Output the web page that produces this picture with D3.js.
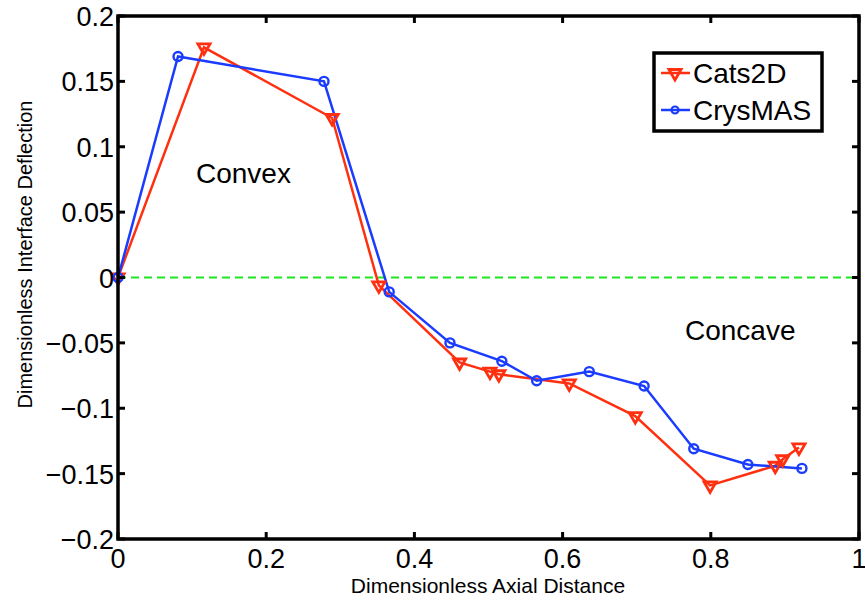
<!doctype html>
<html lang="en">
<head>
<meta charset="utf-8">
<title>Interface deflection</title>
<script src="https://d3js.org/d3.v7.min.js"></script>
<style>
  body { margin: 0; background: #fff; }
  text { font-family: "Liberation Sans", Arial, Helvetica, sans-serif; }
</style>
</head>
<body>
<svg id="chart"></svg>
<script>
// data
const cats2dX = [0, 0.116, 0.289, 0.352, 0.461, 0.502, 0.514, 0.609, 0.698, 0.799, 0.887, 0.897, 0.919];
const cats2dY = [0, 0.176, 0.122, -0.006, -0.065, -0.072, -0.074, -0.081, -0.106, -0.159, -0.144, -0.139, -0.130];
const crysX = [0, 0.081, 0.278, 0.366, 0.448, 0.518, 0.565, 0.636, 0.710, 0.777, 0.850, 0.923];
const crysY = [0, 0.169, 0.150, -0.011, -0.050, -0.064, -0.079, -0.072, -0.083, -0.131, -0.143, -0.146];
const xTicks = [0, 0.2, 0.4, 0.6, 0.8, 1];
const yTicks = [-0.2, -0.15, -0.1, -0.05, 0, 0.05, 0.1, 0.15, 0.2];
const xTickLabels = ["0", "0.2", "0.4", "0.6", "0.8", "1"];
const yTickLabels = ["\u22120.2", "\u22120.15", "\u22120.1", "\u22120.05", "0", "0.05", "0.1", "0.15", "0.2"];

const W = 865, H = 600;
const margin = {top: 16, right: 6, bottom: 61, left: 118};
const red = "#ff3010", blue = "#1a3cff";

const svg = d3.select("#chart").attr("width", W).attr("height", H);

const x = d3.scaleLinear().domain([0, 1]).range([margin.left, W - margin.right]);
const y = d3.scaleLinear().domain([-0.2, 0.2]).range([H - margin.bottom, margin.top]);

const tickLen = 7;

// zero line
svg.append("line")
    .attr("x1", x(0)).attr("x2", x(1))
    .attr("y1", y(0)).attr("y2", y(0))
    .attr("stroke", "#1ee61e").attr("stroke-width", 2)
    .attr("stroke-dasharray", "8,5");

// series
const line = d3.line().x(d => x(d[0])).y(d => y(d[1]));
const cats = cats2dX.map((v, i) => [v, cats2dY[i]]);
const crys = crysX.map((v, i) => [v, crysY[i]]);

svg.append("path").datum(cats).attr("d", line)
    .attr("fill", "none").attr("stroke", red).attr("stroke-width", 2.5);
svg.append("path").datum(crys).attr("d", line)
    .attr("fill", "none").attr("stroke", blue).attr("stroke-width", 2.5);

const tri = d3.symbol().type(d3.symbolTriangle).size(64);
function triMarks(g, pts) {
  g.selectAll("path.tri").data(pts).join("path")
      .attr("class", "tri")
      .attr("d", tri)
      .attr("transform", d => `translate(${x(d[0])},${y(d[1])}) rotate(180)`)
      .attr("fill", "none").attr("stroke", red).attr("stroke-width", 2.8);
}
function circMarks(g, pts) {
  g.selectAll("circle").data(pts).join("circle")
      .attr("cx", d => x(d[0])).attr("cy", d => y(d[1])).attr("r", 4.5)
      .attr("fill", "none").attr("stroke", blue).attr("stroke-width", 2.4);
}
triMarks(svg.append("g"), cats);
circMarks(svg.append("g"), crys);

// axes box with inward ticks on all sides
const axes = svg.append("g");
axes.append("rect")
    .attr("x", x(0)).attr("y", y(0.2))
    .attr("width", x(1) - x(0)).attr("height", y(-0.2) - y(0.2))
    .attr("fill", "none").attr("stroke", "#000").attr("stroke-width", 3.5);

xTicks.forEach(t => {
  axes.append("line").attr("x1", x(t)).attr("x2", x(t))
      .attr("y1", y(-0.2)).attr("y2", y(-0.2) - tickLen)
      .attr("stroke", "#000").attr("stroke-width", 3);
  axes.append("line").attr("x1", x(t)).attr("x2", x(t))
      .attr("y1", y(0.2)).attr("y2", y(0.2) + tickLen)
      .attr("stroke", "#000").attr("stroke-width", 3);
});
yTicks.forEach(t => {
  axes.append("line").attr("x1", x(0)).attr("x2", x(0) + tickLen)
      .attr("y1", y(t)).attr("y2", y(t))
      .attr("stroke", "#000").attr("stroke-width", 3);
  axes.append("line").attr("x1", x(1)).attr("x2", x(1) - tickLen)
      .attr("y1", y(t)).attr("y2", y(t))
      .attr("stroke", "#000").attr("stroke-width", 3);
});

axes.selectAll("text.xt").data(xTicks).join("text")
    .attr("class", "xt")
    .attr("x", d => x(d)).attr("y", y(-0.2) + 29)
    .attr("text-anchor", "middle").attr("font-size", 27)
    .text((d, i) => xTickLabels[i]);

axes.selectAll("text.yt").data(yTicks).join("text")
    .attr("class", "yt")
    .attr("x", x(0) - 4).attr("y", d => y(d) + 10)
    .attr("text-anchor", "end").attr("font-size", 27)
    .text((d, i) => yTickLabels[i]);

// axis labels
svg.append("text")
    .attr("x", 488).attr("y", 593)
    .attr("text-anchor", "middle").attr("font-size", 21)
    .text("Dimensionless Axial Distance");
svg.append("text")
    .attr("transform", `translate(32,${y(0) - 23}) rotate(-90)`)
    .attr("text-anchor", "middle").attr("font-size", 20)
    .text("Dimensionless Interface Deflection");

// annotations
svg.append("text").attr("x", 196).attr("y", 183).attr("font-size", 28).text("Convex");
svg.append("text").attr("x", 685).attr("y", 340).attr("font-size", 28).text("Concave");

// legend
const leg = svg.append("g");
leg.append("rect")
    .attr("x", 654).attr("y", 53).attr("width", 168).attr("height", 78)
    .attr("fill", "#fff").attr("stroke", "#000").attr("stroke-width", 3.5);
const legItems = [
  {name: "Cats2D", color: red, y: 73, kind: "tri"},
  {name: "CrysMAS", color: blue, y: 110, kind: "circ"}
];
legItems.forEach(it => {
  leg.append("line").attr("x1", 661).attr("x2", 690)
      .attr("y1", it.y).attr("y2", it.y)
      .attr("stroke", it.color).attr("stroke-width", 2.5);
  if (it.kind === "tri") {
    leg.append("path").attr("d", tri)
        .attr("transform", `translate(675,${it.y}) rotate(180)`)
        .attr("fill", "none").attr("stroke", it.color).attr("stroke-width", 2.8);
  } else {
    leg.append("circle").attr("cx", 675).attr("cy", it.y).attr("r", 3.5)
        .attr("fill", "none").attr("stroke", it.color).attr("stroke-width", 2.2);
  }
  leg.append("text").attr("x", 693).attr("y", it.y + 10)
      .attr("font-size", 28).text(it.name);
});
</script>
</body>
</html>
